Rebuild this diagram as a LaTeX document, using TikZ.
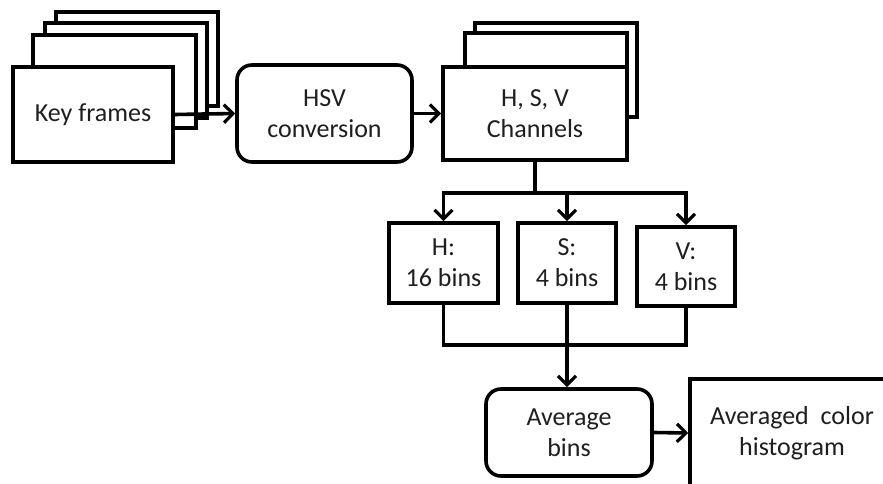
\documentclass[tikz,border=0pt]{standalone}
\usepackage{fontspec}
\setmainfont{Carlito}
\usetikzlibrary{arrows.meta}
\begin{document}
\begin{tikzpicture}[x=1pt,y=-1pt,
  box/.style={draw=black,fill=white,line width=3.6pt,inner sep=0pt,align=center,
    font=\fontsize{26}{31}\selectfont,text=black!88},
  rbox/.style={box,rounded corners=15pt},
  conn/.style={line width=3.6pt,draw=black},
  arr/.style={conn,-{Straight Barb[length=9pt,width=18pt,line width=3.2pt]}}]
\useasboundingbox (0,0) rectangle (883,484);
% key frames stack
\node[box,minimum width=162pt,minimum height=94pt] (kf4) at (137,59) {};
\node[box,minimum width=162pt,minimum height=95pt] (kf3) at (126,70.5) {};
\node[box,minimum width=163pt,minimum height=93pt] (kf2) at (114.5,81.5) {};
\node[box,minimum width=160pt,minimum height=95pt] (kf) at (93,114.5) {Key frames};
% HSV conversion
\node[rbox,minimum width=175pt,minimum height=97pt] (hsv) at (324.5,113.5) {HSV\\conversion};
% channels stack
\node[box,minimum width=162pt,minimum height=94pt] (ch3) at (556,70) {};
\node[box,minimum width=162pt,minimum height=93pt] (ch2) at (546,79.5) {};
\node[box,minimum width=184pt,minimum height=93pt] (ch) at (535,113.5) {H, S, V\\Channels};
% bins
\node[box,minimum width=109pt,minimum height=80pt] (hb) at (443.5,263) {H:\\16 bins};
\node[box,minimum width=98pt,minimum height=80pt] (sb) at (567,263) {S:\\4 bins};
\node[box,minimum width=98pt,minimum height=79pt] (vb) at (686,266.5) {V:\\4 bins};
% average
\node[rbox,minimum width=166pt,minimum height=87pt] (avg) at (569,432.5) {Average\\bins};
\node[box,minimum width=204pt,minimum height=108pt] (res) at (792,433) {Averaged\ \ color\\histogram};
% connectors
\coordinate (j1) at (535,193);
\coordinate (j2) at (568,345);
\draw[arr] (kf.east) -- (hsv.west);
\draw[arr] (hsv.east) -- (ch.west);
\draw[conn] (ch.south) -- (j1);
\draw[arr] (j1) -| (hb.north);
\draw[arr] (j1) -| (sb.north);
\draw[arr] (j1) -| (vb.north);
\draw[conn] (hb.south) |- (j2);
\draw[conn] (vb.south) |- (j2);
\draw[arr] (sb.south) -- (sb.south |- avg.north);
\draw[arr] (avg.east) -- (res.west);
\end{tikzpicture}
\end{document}
